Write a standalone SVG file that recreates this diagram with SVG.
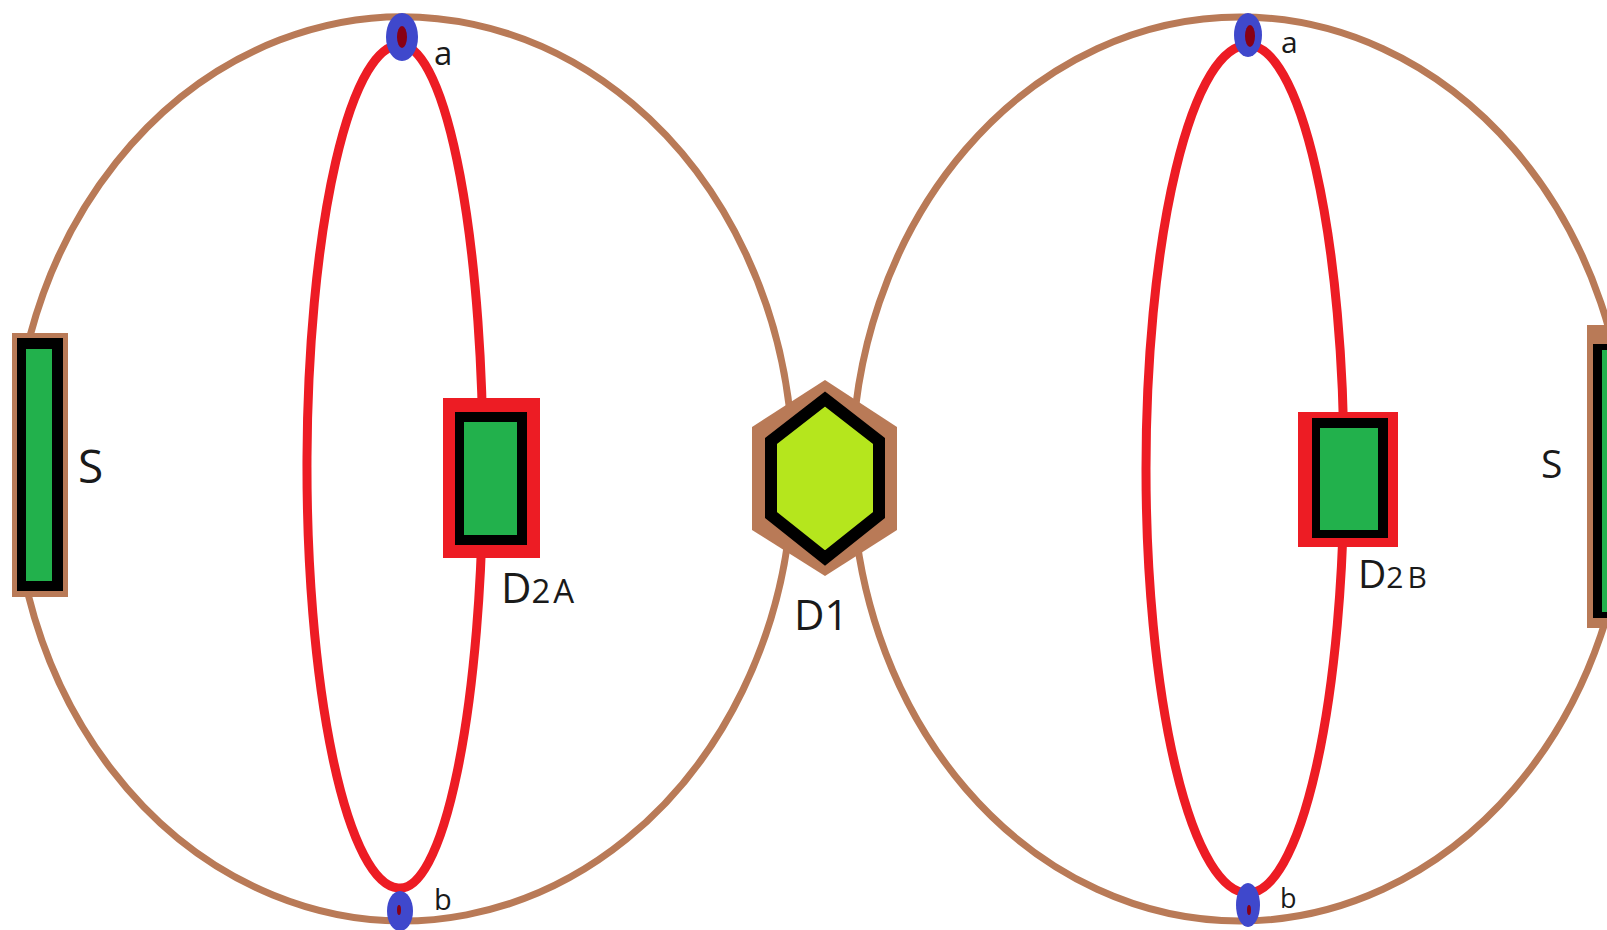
<svg xmlns="http://www.w3.org/2000/svg" width="1607" height="930" viewBox="0 0 1607 930">
<style>
.loop{fill:none;stroke:#b97a57;stroke-width:7}
.wire{fill:none;stroke:#ed1c24;stroke-width:9}
.brown{fill:#b97a57}
.red{fill:#ed1c24}
.blk{fill:#000}
.grn{fill:#22b14c}
.lbl{font-family:"Open Sans","Noto Sans",sans-serif;fill:#1a1a1a}
.nb{fill:#3f48cc}
.nr{fill:#880015}
</style>
<rect x="0" y="0" width="1607" height="930" fill="#fff"/>
<g id="connectors">
<path class="loop" d="M30,336 A390,452 0 1 1 28,594"/>
<ellipse class="loop" cx="1240" cy="469" rx="388" ry="452"/>
<path class="wire" d="M402,45 A93,421.5 0 0 0 398,888 A83,421.5 0 0 0 402,45 Z"/>
<path class="wire" d="M1248,45 A102,424 0 0 0 1248,893 A96,424 0 0 0 1248,45 Z"/>
</g>
<g id="S-left">
<rect class="brown" x="12" y="333" width="56" height="264"/>
<rect class="blk" x="17" y="338" width="46" height="253"/>
<rect class="grn" x="26" y="349" width="26" height="232"/>
<text class="lbl" x="78" y="483" font-size="46">S</text>
</g>
<g id="S-right">
<rect class="brown" x="1587" y="325" width="60" height="303"/>
<rect class="blk" x="1593" y="344" width="50" height="274"/>
<rect class="grn" x="1602" y="350" width="40" height="262"/>
<text class="lbl" x="1541" y="478" font-size="39">S</text>
</g>
<g id="D2A">
<rect class="red" x="443" y="398" width="97" height="160"/>
<rect class="blk" x="455" y="412" width="72" height="133"/>
<rect class="grn" x="464" y="422" width="53" height="113"/>
<text class="lbl" x="501" y="603"><tspan font-size="42">D</tspan><tspan font-size="33" letter-spacing="3">2A</tspan></text>
</g>
<g id="D2B">
<rect class="red" x="1298" y="412" width="100" height="135"/>
<rect class="blk" x="1312" y="418" width="76" height="120"/>
<rect class="grn" x="1320" y="428" width="58" height="102"/>
<text class="lbl" x="1358" y="588"><tspan font-size="39">D</tspan><tspan font-size="30" letter-spacing="4">2B</tspan></text>
</g>
<g id="D1">
<polygon class="brown" points="825,380 897,427 897,530 825,576 752,530 752,427"/>
<polygon points="825,399 879,441 879,515 825,558 771,515 771,441" fill="#b5e61d" stroke="#000" stroke-width="12" stroke-linejoin="miter"/>
<text class="lbl" x="794" y="630" font-size="42">D1</text>
</g>
<g id="node-a-left">
<ellipse class="nb" cx="402" cy="37" rx="16" ry="24"/>
<ellipse class="nr" cx="402" cy="37" rx="5" ry="11"/>
<text class="lbl" x="434" y="65" font-size="33">a</text>
</g>
<g id="node-b-left">
<ellipse class="nb" cx="400" cy="911" rx="13" ry="20"/>
<ellipse class="nr" cx="399" cy="910" rx="2" ry="5"/>
<text class="lbl" x="434" y="910" font-size="29">b</text>
</g>
<g id="node-a-right">
<ellipse class="nb" cx="1248" cy="35" rx="14" ry="22"/>
<ellipse class="nr" cx="1250" cy="36" rx="5" ry="11"/>
<text class="lbl" x="1281" y="53" font-size="30">a</text>
</g>
<g id="node-b-right">
<ellipse class="nb" cx="1248" cy="905" rx="12" ry="22"/>
<ellipse class="nr" cx="1249" cy="910" rx="2" ry="5"/>
<text class="lbl" x="1280" y="908" font-size="27">b</text>
</g>
</svg>
